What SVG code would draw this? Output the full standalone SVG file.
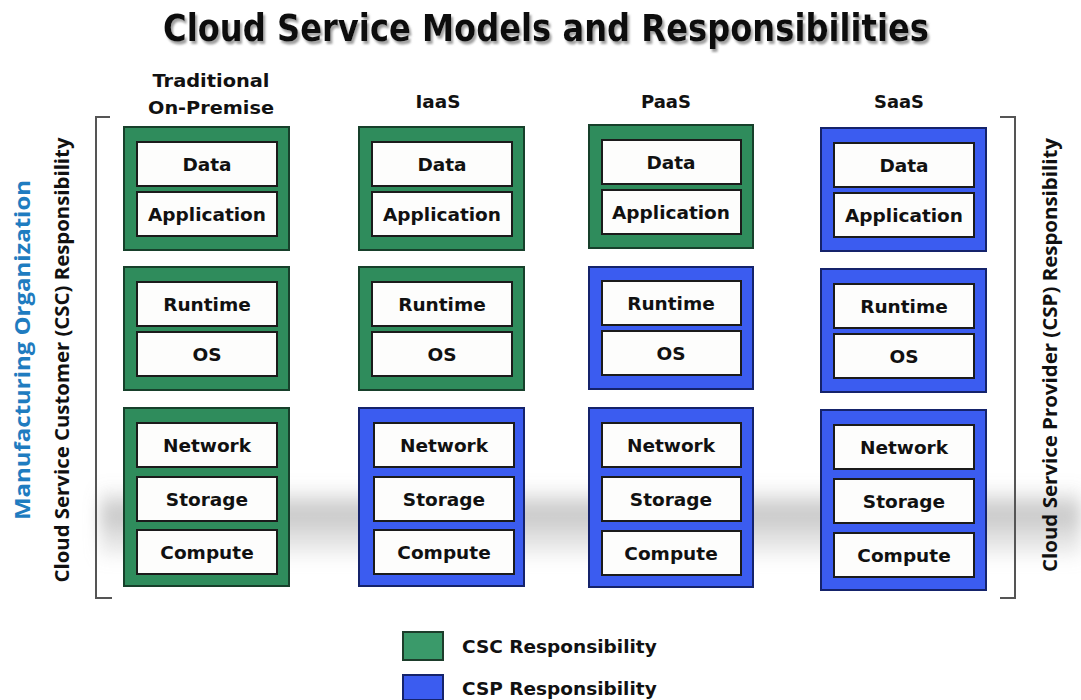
<svg xmlns="http://www.w3.org/2000/svg" width="1081" height="700" viewBox="0 0 1081 700">
<defs>
<filter id="blur" x="-10%" y="-50%" width="120%" height="200%"><feGaussianBlur stdDeviation="8"/></filter>
<filter id="tshadow" x="-5%" y="-30%" width="110%" height="160%"><feDropShadow dx="2" dy="3" stdDeviation="1.2" flood-color="#888" flood-opacity="0.8"/></filter>
<linearGradient id="shad" x1="0" y1="0" x2="0" y2="1">
<stop offset="0" stop-color="#888" stop-opacity="0"/>
<stop offset="0.4" stop-color="#a0a0a0" stop-opacity="0.6"/>
<stop offset="1" stop-color="#bbb" stop-opacity="0.15"/>
</linearGradient>
</defs>
<style>
.g{fill:#2f8c5c;stroke:#17402b;stroke-width:2}
.b{fill:#3b5cf0;stroke:#15236b;stroke-width:2}
.in{fill:#fdfdfc;stroke:#1b1b1b;stroke-width:2}
.lbl{font-family:"DejaVu Sans",Verdana,sans-serif;font-weight:bold;font-size:18.5px;fill:#111;text-anchor:middle}
.hdr{font-family:"DejaVu Sans",Verdana,sans-serif;font-weight:bold;font-size:18px;fill:#111;text-anchor:middle}
.side{font-family:"Open Sans","Noto Sans",sans-serif;font-weight:bold;font-size:20px;fill:#111;text-anchor:middle}
.leg{font-family:"DejaVu Sans",Verdana,sans-serif;font-weight:bold;font-size:18.5px;fill:#111}
.br{fill:none;stroke:#555;stroke-width:2}
</style>
<rect width="1081" height="700" fill="#fff"/>
<!-- shadow band -->
<rect x="100" y="486" width="981" height="72" fill="url(#shad)" filter="url(#blur)"/>
<!-- title -->
<g id="title">
<text x="546" y="41" text-anchor="middle" font-family="DejaVu Sans,sans-serif" font-weight="bold" font-size="37" fill="#111" filter="url(#tshadow)" textLength="766" lengthAdjust="spacingAndGlyphs">Cloud Service Models and Responsibilities</text>
</g>
<!-- headers -->
<g id="headers">
<text class="hdr" x="211" y="87" textLength="117" lengthAdjust="spacingAndGlyphs">Traditional</text>
<text class="hdr" x="211" y="114" textLength="126" lengthAdjust="spacingAndGlyphs">On-Premise</text>
<text class="hdr" x="438" y="108" textLength="45" lengthAdjust="spacingAndGlyphs">IaaS</text>
<text class="hdr" x="666" y="108" textLength="50" lengthAdjust="spacingAndGlyphs">PaaS</text>
<text class="hdr" x="899" y="108" textLength="50" lengthAdjust="spacingAndGlyphs">SaaS</text>
</g>
<!-- brackets -->
<g id="connectors">
<path class="br" d="M110,117 H96 V598 H112"/>
<path class="br" d="M1000,117 H1015 V598 H1000"/>
</g>
<!-- side labels -->
<g id="side-left">
<text transform="translate(30,350) rotate(-90)" text-anchor="middle" font-family="Open Sans,Noto Sans,sans-serif" font-weight="bold" font-size="22" fill="#1f7cc0" textLength="340" lengthAdjust="spacingAndGlyphs">Manufacturing Organization</text>
<text class="side" transform="translate(69,360) rotate(-90)" textLength="445" lengthAdjust="spacingAndGlyphs">Cloud Service Customer (CSC) Responsibility</text>
</g>
<g id="side-right">
<text class="side" transform="translate(1057,355) rotate(-90)" textLength="434" lengthAdjust="spacingAndGlyphs">Cloud Service Provider (CSP) Responsibility</text>
</g>
<!-- Column 1: Traditional -->
<g id="col1-top">
<rect class="g" x="124" y="127" width="165" height="123"/>
<rect class="in" x="137" y="142" width="140" height="44"/><text class="lbl" x="207" y="171">Data</text>
<rect class="in" x="137" y="192" width="140" height="44"/><text class="lbl" x="207" y="221">Application</text>
</g>
<g id="col1-mid">
<rect class="g" x="124" y="267" width="165" height="123"/>
<rect class="in" x="137" y="282" width="140" height="44"/><text class="lbl" x="207" y="311">Runtime</text>
<rect class="in" x="137" y="332" width="140" height="44"/><text class="lbl" x="207" y="361">OS</text>
</g>
<g id="col1-bot">
<rect class="g" x="124" y="408" width="165" height="178"/>
<rect class="in" x="137" y="423" width="140" height="44"/><text class="lbl" x="207" y="452">Network</text>
<rect class="in" x="137" y="477" width="140" height="44"/><text class="lbl" x="207" y="506">Storage</text>
<rect class="in" x="137" y="530" width="140" height="44"/><text class="lbl" x="207" y="559">Compute</text>
</g>
<!-- Column 2: IaaS -->
<g id="col2-top">
<rect class="g" x="359" y="127" width="165" height="123"/>
<rect class="in" x="372" y="142" width="140" height="44"/><text class="lbl" x="442" y="171">Data</text>
<rect class="in" x="372" y="192" width="140" height="44"/><text class="lbl" x="442" y="221">Application</text>
</g>
<g id="col2-mid">
<rect class="g" x="359" y="267" width="165" height="123"/>
<rect class="in" x="372" y="282" width="140" height="44"/><text class="lbl" x="442" y="311">Runtime</text>
<rect class="in" x="372" y="332" width="140" height="44"/><text class="lbl" x="442" y="361">OS</text>
</g>
<g id="col2-bot">
<rect class="b" x="359" y="408" width="165" height="178"/>
<rect class="in" x="374" y="423" width="140" height="44"/><text class="lbl" x="444" y="452">Network</text>
<rect class="in" x="374" y="477" width="140" height="44"/><text class="lbl" x="444" y="506">Storage</text>
<rect class="in" x="374" y="530" width="140" height="44"/><text class="lbl" x="444" y="559">Compute</text>
</g>
<!-- Column 3: PaaS -->
<g id="col3-top">
<rect class="g" x="589" y="125" width="164" height="123"/>
<rect class="in" x="602" y="140" width="139" height="44"/><text class="lbl" x="671" y="169">Data</text>
<rect class="in" x="602" y="190" width="139" height="44"/><text class="lbl" x="671" y="219">Application</text>
</g>
<g id="col3-mid">
<rect class="b" x="589" y="267" width="164" height="122"/>
<rect class="in" x="602" y="281" width="139" height="44"/><text class="lbl" x="671" y="310">Runtime</text>
<rect class="in" x="602" y="331" width="139" height="44"/><text class="lbl" x="671" y="360">OS</text>
</g>
<g id="col3-bot">
<rect class="b" x="589" y="408" width="164" height="179"/>
<rect class="in" x="602" y="423" width="139" height="44"/><text class="lbl" x="671" y="452">Network</text>
<rect class="in" x="602" y="477" width="139" height="44"/><text class="lbl" x="671" y="506">Storage</text>
<rect class="in" x="602" y="531" width="139" height="44"/><text class="lbl" x="671" y="560">Compute</text>
</g>
<!-- Column 4: SaaS -->
<g id="col4-top">
<rect class="b" x="821" y="128" width="165" height="123"/>
<rect class="in" x="834" y="143" width="140" height="44"/><text class="lbl" x="904" y="172">Data</text>
<rect class="in" x="834" y="193" width="140" height="44"/><text class="lbl" x="904" y="222">Application</text>
</g>
<g id="col4-mid">
<rect class="b" x="821" y="269" width="165" height="123"/>
<rect class="in" x="834" y="284" width="140" height="44"/><text class="lbl" x="904" y="313">Runtime</text>
<rect class="in" x="834" y="334" width="140" height="44"/><text class="lbl" x="904" y="363">OS</text>
</g>
<g id="col4-bot">
<rect class="b" x="821" y="410" width="165" height="180"/>
<rect class="in" x="834" y="425" width="140" height="44"/><text class="lbl" x="904" y="454">Network</text>
<rect class="in" x="834" y="479" width="140" height="44"/><text class="lbl" x="904" y="508">Storage</text>
<rect class="in" x="834" y="533" width="140" height="44"/><text class="lbl" x="904" y="562">Compute</text>
</g>
<!-- legend -->
<g id="legend">
<rect x="403" y="632" width="40" height="28" fill="#3a9a6a" stroke="#1d3d2b" stroke-width="2"/>
<text class="leg" x="462" y="653">CSC Responsibility</text>
<rect x="403" y="675" width="40" height="25" fill="#3b5cf0" stroke="#15236b" stroke-width="2"/>
<text class="leg" x="462" y="695">CSP Responsibility</text>
</g>
</svg>
